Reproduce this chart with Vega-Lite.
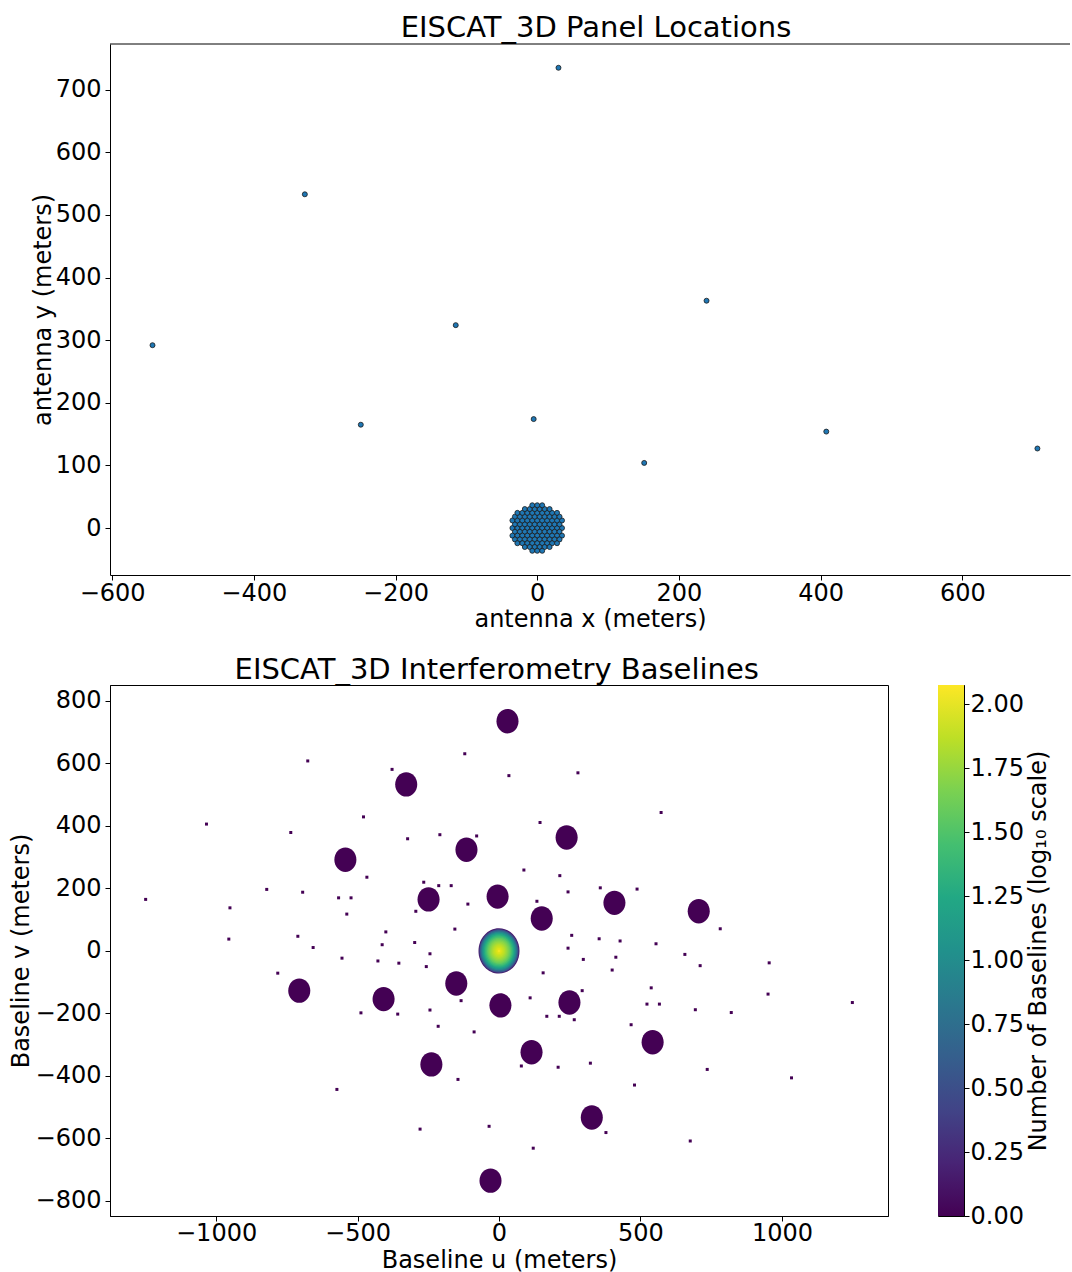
{
  "$schema": "https://vega.github.io/schema/vega-lite/v6.json",
  "background": "white",
  "padding": {"left": 8, "top": 13, "right": 2, "bottom": 0},
  "config": {
    "font": "DejaVu Sans",
    "axis": {"labelFont": "DejaVu Sans", "labelFontSize": 24, "labelColor": "black", "titleFont": "DejaVu Sans", "titleFontSize": 24, "titleFontWeight": "normal", "titleColor": "black", "tickColor": "black", "tickSize": 5, "tickWidth": 1, "domainColor": "black", "domainWidth": 1, "grid": false, "labelPadding": 4},
    "axisX": {"labelPadding": 1},
    "title": {"font": "DejaVu Sans", "fontSize": 29, "fontWeight": "normal", "color": "black"},
    "view": {"stroke": "black", "strokeWidth": 1}
  },
  "datasets": {
    "panels": [
      {"x":-35,"y":0},{"x":-28,"y":0},{"x":-21,"y":0},{"x":-14,"y":0},{"x":-7,"y":0},{"x":0,"y":0},{"x":7,"y":0},{"x":14,"y":0},{"x":21,"y":0},{"x":28,"y":0},{"x":35,"y":0},
      {"x":-31.5,"y":6.06},{"x":-24.5,"y":6.06},{"x":-17.5,"y":6.06},{"x":-10.5,"y":6.06},{"x":-3.5,"y":6.06},{"x":3.5,"y":6.06},{"x":10.5,"y":6.06},{"x":17.5,"y":6.06},{"x":24.5,"y":6.06},{"x":31.5,"y":6.06},
      {"x":-31.5,"y":-6.06},{"x":-24.5,"y":-6.06},{"x":-17.5,"y":-6.06},{"x":-10.5,"y":-6.06},{"x":-3.5,"y":-6.06},{"x":3.5,"y":-6.06},{"x":10.5,"y":-6.06},{"x":17.5,"y":-6.06},{"x":24.5,"y":-6.06},{"x":31.5,"y":-6.06},
      {"x":-35,"y":12.12},{"x":-28,"y":12.12},{"x":-21,"y":12.12},{"x":-14,"y":12.12},{"x":-7,"y":12.12},{"x":0,"y":12.12},{"x":7,"y":12.12},{"x":14,"y":12.12},{"x":21,"y":12.12},{"x":28,"y":12.12},{"x":35,"y":12.12},
      {"x":-35,"y":-12.12},{"x":-28,"y":-12.12},{"x":-21,"y":-12.12},{"x":-14,"y":-12.12},{"x":-7,"y":-12.12},{"x":0,"y":-12.12},{"x":7,"y":-12.12},{"x":14,"y":-12.12},{"x":21,"y":-12.12},{"x":28,"y":-12.12},{"x":35,"y":-12.12},
      {"x":-31.5,"y":18.19},{"x":-24.5,"y":18.19},{"x":-17.5,"y":18.19},{"x":-10.5,"y":18.19},{"x":-3.5,"y":18.19},{"x":3.5,"y":18.19},{"x":10.5,"y":18.19},{"x":17.5,"y":18.19},{"x":24.5,"y":18.19},{"x":31.5,"y":18.19},
      {"x":-31.5,"y":-18.19},{"x":-24.5,"y":-18.19},{"x":-17.5,"y":-18.19},{"x":-10.5,"y":-18.19},{"x":-3.5,"y":-18.19},{"x":3.5,"y":-18.19},{"x":10.5,"y":-18.19},{"x":17.5,"y":-18.19},{"x":24.5,"y":-18.19},{"x":31.5,"y":-18.19},
      {"x":-28,"y":24.25},{"x":-21,"y":24.25},{"x":-14,"y":24.25},{"x":-7,"y":24.25},{"x":0,"y":24.25},{"x":7,"y":24.25},{"x":14,"y":24.25},{"x":21,"y":24.25},{"x":28,"y":24.25},
      {"x":-28,"y":-24.25},{"x":-21,"y":-24.25},{"x":-14,"y":-24.25},{"x":-7,"y":-24.25},{"x":0,"y":-24.25},{"x":7,"y":-24.25},{"x":14,"y":-24.25},{"x":21,"y":-24.25},{"x":28,"y":-24.25},
      {"x":-17.5,"y":30.31},{"x":-10.5,"y":30.31},{"x":-3.5,"y":30.31},{"x":3.5,"y":30.31},{"x":10.5,"y":30.31},{"x":17.5,"y":30.31},
      {"x":-17.5,"y":-30.31},{"x":-10.5,"y":-30.31},{"x":-3.5,"y":-30.31},{"x":3.5,"y":-30.31},{"x":10.5,"y":-30.31},{"x":17.5,"y":-30.31},
      {"x":-7,"y":36.37},{"x":0,"y":36.37},{"x":7,"y":36.37},
      {"x":-7,"y":-36.37},{"x":0,"y":-36.37},{"x":7,"y":-36.37},
      {"x":30,"y":735},{"x":-328,"y":533},{"x":-543,"y":292},{"x":-115,"y":324},{"x":-249,"y":165},
      {"x":-5,"y":174},{"x":239,"y":363},{"x":151,"y":104},{"x":408,"y":154},{"x":706,"y":127}
    ],
    "groups": [
      {"u":30,"v":735,"radius_m":39,"log_count":0},{"u":-328,"v":533,"radius_m":39,"log_count":0},{"u":-543,"v":292,"radius_m":39,"log_count":0},{"u":-115,"v":324,"radius_m":39,"log_count":0},{"u":-249,"v":165,"radius_m":39,"log_count":0},
      {"u":-5,"v":174,"radius_m":39,"log_count":0},{"u":239,"v":363,"radius_m":39,"log_count":0},{"u":151,"v":104,"radius_m":39,"log_count":0},{"u":408,"v":154,"radius_m":39,"log_count":0},{"u":706,"v":127,"radius_m":39,"log_count":0},
      {"u":-30,"v":-735,"radius_m":39,"log_count":0},{"u":328,"v":-533,"radius_m":39,"log_count":0},{"u":543,"v":-292,"radius_m":39,"log_count":0},{"u":115,"v":-324,"radius_m":39,"log_count":0},{"u":249,"v":-165,"radius_m":39,"log_count":0},
      {"u":5,"v":-174,"radius_m":39,"log_count":0},{"u":-239,"v":-363,"radius_m":39,"log_count":0},{"u":-151,"v":-104,"radius_m":39,"log_count":0},{"u":-408,"v":-154,"radius_m":39,"log_count":0},{"u":-706,"v":-127,"radius_m":39,"log_count":0},
      {"u":0,"v":0,"radius_m":72.5,"log_count":0.15},
      {"u":0,"v":0,"radius_m":69.5,"log_count":0.45},
      {"u":0,"v":0,"radius_m":66,"log_count":0.7},
      {"u":0,"v":0,"radius_m":62,"log_count":0.94},
      {"u":0,"v":0,"radius_m":58,"log_count":1.12},
      {"u":0,"v":0,"radius_m":54,"log_count":1.26},
      {"u":0,"v":0,"radius_m":50,"log_count":1.38},
      {"u":0,"v":0,"radius_m":46,"log_count":1.47},
      {"u":0,"v":0,"radius_m":42,"log_count":1.56},
      {"u":0,"v":0,"radius_m":38,"log_count":1.63},
      {"u":0,"v":0,"radius_m":34,"log_count":1.69},
      {"u":0,"v":0,"radius_m":30,"log_count":1.75},
      {"u":0,"v":0,"radius_m":26,"log_count":1.8},
      {"u":0,"v":0,"radius_m":22,"log_count":1.85},
      {"u":0,"v":0,"radius_m":18,"log_count":1.89},
      {"u":0,"v":0,"radius_m":14,"log_count":1.93},
      {"u":0,"v":0,"radius_m":10,"log_count":1.97},
      {"u":0,"v":0,"radius_m":6,"log_count":2.0},
      {"u":0,"v":0,"radius_m":3,"log_count":2.076}
    ],
    "pairs": [
      {"u":358,"v":202,"log_count":0},{"u":573,"v":443,"log_count":0},{"u":145,"v":411,"log_count":0},{"u":279,"v":570,"log_count":0},{"u":35,"v":561,"log_count":0},
      {"u":-209,"v":372,"log_count":0},{"u":-121,"v":631,"log_count":0},{"u":-378,"v":581,"log_count":0},{"u":-676,"v":608,"log_count":0},
      {"u":215,"v":241,"log_count":0},{"u":-213,"v":209,"log_count":0},{"u":-79,"v":368,"log_count":0},{"u":-323,"v":359,"log_count":0},{"u":-567,"v":170,"log_count":0},
      {"u":-479,"v":429,"log_count":0},{"u":-736,"v":379,"log_count":0},{"u":-1034,"v":406,"log_count":0},
      {"u":-428,"v":-32,"log_count":0},{"u":-294,"v":127,"log_count":0},{"u":-538,"v":118,"log_count":0},{"u":-782,"v":-71,"log_count":0},{"u":-694,"v":188,"log_count":0},
      {"u":-951,"v":138,"log_count":0},{"u":-1249,"v":165,"log_count":0},
      {"u":134,"v":159,"log_count":0},{"u":-110,"v":150,"log_count":0},{"u":-354,"v":-39,"log_count":0},{"u":-266,"v":220,"log_count":0},{"u":-523,"v":170,"log_count":0},{"u":-821,"v":197,"log_count":0},
      {"u":-244,"v":-9,"log_count":0},{"u":-488,"v":-198,"log_count":0},{"u":-400,"v":61,"log_count":0},{"u":-657,"v":11,"log_count":0},{"u":-955,"v":38,"log_count":0},
      {"u":-244,"v":-189,"log_count":0},{"u":-156,"v":70,"log_count":0},{"u":-413,"v":20,"log_count":0},{"u":-711,"v":47,"log_count":0},
      {"u":88,"v":259,"log_count":0},{"u":-169,"v":209,"log_count":0},{"u":-467,"v":236,"log_count":0},
      {"u":-257,"v":-50,"log_count":0},{"u":-555,"v":-23,"log_count":0},
      {"u":-298,"v":27,"log_count":0},
      {"u":-358,"v":-202,"log_count":0},{"u":-573,"v":-443,"log_count":0},{"u":-145,"v":-411,"log_count":0},{"u":-279,"v":-570,"log_count":0},{"u":-35,"v":-561,"log_count":0},
      {"u":209,"v":-372,"log_count":0},{"u":121,"v":-631,"log_count":0},{"u":378,"v":-581,"log_count":0},{"u":676,"v":-608,"log_count":0},
      {"u":-215,"v":-241,"log_count":0},{"u":213,"v":-209,"log_count":0},{"u":79,"v":-368,"log_count":0},{"u":323,"v":-359,"log_count":0},{"u":567,"v":-170,"log_count":0},
      {"u":479,"v":-429,"log_count":0},{"u":736,"v":-379,"log_count":0},{"u":1034,"v":-406,"log_count":0},
      {"u":428,"v":32,"log_count":0},{"u":294,"v":-127,"log_count":0},{"u":538,"v":-118,"log_count":0},{"u":782,"v":71,"log_count":0},{"u":694,"v":-188,"log_count":0},
      {"u":951,"v":-138,"log_count":0},{"u":1249,"v":-165,"log_count":0},
      {"u":-134,"v":-159,"log_count":0},{"u":110,"v":-150,"log_count":0},{"u":354,"v":39,"log_count":0},{"u":266,"v":-220,"log_count":0},{"u":523,"v":-170,"log_count":0},{"u":821,"v":-197,"log_count":0},
      {"u":244,"v":9,"log_count":0},{"u":488,"v":198,"log_count":0},{"u":400,"v":-61,"log_count":0},{"u":657,"v":-11,"log_count":0},{"u":955,"v":-38,"log_count":0},
      {"u":244,"v":189,"log_count":0},{"u":156,"v":-70,"log_count":0},{"u":413,"v":-20,"log_count":0},{"u":711,"v":-47,"log_count":0},
      {"u":-88,"v":-259,"log_count":0},{"u":169,"v":-209,"log_count":0},{"u":467,"v":-236,"log_count":0},
      {"u":257,"v":50,"log_count":0},{"u":555,"v":23,"log_count":0},
      {"u":298,"v":-27,"log_count":0}
    ],
    "colorbar": [{"lo": 0, "hi": 2.076}]
  },
  "spacing": 24,
  "vconcat": [
    {
      "width": 960,
      "height": 531,
      "title": {"text": "EISCAT_3D Panel Locations", "dx": 6, "offset": 1},
      "view": {"stroke": null},
      "layer": [
        {
          "data": {"name": "panels"},
          "mark": {"type": "point", "shape": "circle", "filled": true, "size": 25, "color": "#1f77b4", "stroke": "#1a1a1a", "strokeWidth": 0.8, "opacity": 1},
          "encoding": {
            "x": {"field": "x", "type": "quantitative", "scale": {"domain": [-603, 752], "nice": false, "zero": false}, "axis": {"title": "antenna x (meters)", "values": [-600, -400, -200, 0, 200, 400, 600], "titlePadding": 2}},
            "y": {"field": "y", "type": "quantitative", "scale": {"domain": [-75, 773], "nice": false, "zero": false}, "axis": {"title": "antenna y (meters)", "values": [0, 100, 200, 300, 400, 500, 600, 700], "minExtent": 100, "titleX": -55}}
          }
        },
        {
          "data": {"values": [{}]},
          "mark": {"type": "rule", "color": "black", "strokeWidth": 1},
          "encoding": {"y": {"datum": 773}}
        }
      ]
    },
    {
      "title": {"text": "EISCAT_3D Interferometry Baselines", "anchor": "start", "dx": 226, "offset": 0},
      "spacing": 48,
      "hconcat": [
        {
          "width": 778,
          "height": 531,
          "layer": [
            {
              "data": {"name": "groups"},
              "mark": {"type": "point", "filled": true, "opacity": 1, "strokeWidth": 0, "shape": "M-0.905,0A0.905,1,0,1,0,0.905,0A0.905,1,0,1,0,-0.905,0Z"},
              "encoding": {
                "x": {"field": "u", "type": "quantitative", "scale": {"domain": [-1375, 1375], "nice": false, "zero": false}, "axis": {"title": "Baseline u (meters)", "values": [-1000, -500, 0, 500, 1000], "format": "d", "labelPadding": 0, "titlePadding": 3}},
                "y": {"field": "v", "type": "quantitative", "scale": {"domain": [-848, 851], "nice": false, "zero": false}, "axis": {"title": "Baseline v (meters)", "values": [-800, -600, -400, -200, 0, 200, 400, 600, 800], "titlePadding": 2}},
                "size": {"field": "radius_m", "type": "quantitative", "scale": {"type": "pow", "exponent": 2, "domain": [0, 100], "range": [0, 3906.25]}, "legend": null},
                "color": {"field": "log_count", "type": "quantitative", "scale": {"scheme": "viridis", "domain": [0, 2.076]}, "legend": null},
                "order": {"field": "radius_m", "type": "quantitative", "sort": "descending"}
              }
            },
            {
              "data": {"name": "pairs"},
              "mark": {"type": "point", "shape": "square", "filled": true, "opacity": 1, "size": 9},
              "encoding": {
                "x": {"field": "u", "type": "quantitative"},
                "y": {"field": "v", "type": "quantitative"},
                "color": {"field": "log_count", "type": "quantitative", "scale": {"scheme": "viridis", "domain": [0, 2.076]}, "legend": null}
              }
            }
          ]
        },
        {
          "width": 26,
          "height": 531,
          "data": {"name": "colorbar"},
          "mark": {"type": "rect", "color": {"gradient": "linear", "x1": 0, "y1": 1, "x2": 0, "y2": 0, "stops": [
            {"offset": 0, "color": "#440154"}, {"offset": 0.1, "color": "#482475"}, {"offset": 0.2, "color": "#414487"}, {"offset": 0.3, "color": "#355f8d"}, {"offset": 0.4, "color": "#2a788e"}, {"offset": 0.5, "color": "#21918c"}, {"offset": 0.6, "color": "#22a884"}, {"offset": 0.7, "color": "#44bf70"}, {"offset": 0.8, "color": "#7ad151"}, {"offset": 0.9, "color": "#bddf26"}, {"offset": 1, "color": "#fde725"}]}},
          "encoding": {
            "x": {"datum": 0, "type": "quantitative", "scale": {"domain": [0, 1], "nice": false}, "axis": null},
            "x2": {"datum": 1},
            "y": {"field": "lo", "type": "quantitative", "scale": {"domain": [0, 2.076], "nice": false, "zero": false}, "axis": {"orient": "right", "title": "Number of Baselines (log₁₀ scale)", "values": [0, 0.25, 0.5, 0.75, 1, 1.25, 1.5, 1.75, 2], "format": ".2f", "labelPadding": 1, "titleAngle": 270, "titleBaseline": "top", "titlePadding": 3}},
            "y2": {"field": "hi"}
          }
        }
      ]
    }
  ]
}
